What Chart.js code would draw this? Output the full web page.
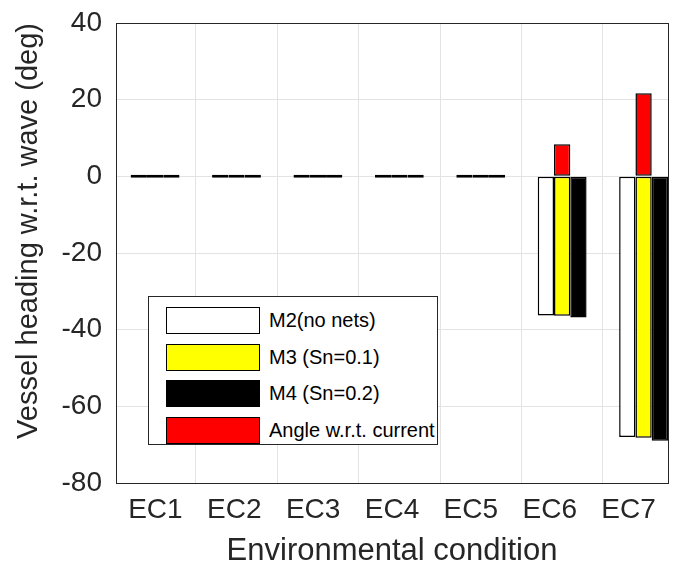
<!DOCTYPE html>
<html>
<head>
<meta charset="utf-8">
<script src="https://cdn.jsdelivr.net/npm/chart.js@4"></script>
<style>
	body { margin: 0; background: #fff; }
	#wrap { position: relative; width: 678px; height: 578px; }
	#legend {
		position: absolute; left: 148px; top: 296px; width: 290px; height: 149px;
		border: 1px solid #262626; background: #fff; box-sizing: border-box;
		font-family: "Liberation Sans", Arial, sans-serif; font-size: 20px; color: #000;
	}
	.row { position: absolute; left: 17px; height: 28px; display: flex; align-items: center; white-space: nowrap; }
	.sw { width: 94px; height: 27px; border: 1px solid #000; box-sizing: border-box; margin-right: 9px; }
</style>
</head>
<body>
<div id="wrap">
	<canvas id="myChart" width="678" height="578"></canvas>
	<div id="legend"></div>
</div>
<script>
const categories = ["EC1", "EC2", "EC3", "EC4", "EC5", "EC6", "EC7"];
const m2Values = [0, 0, 0, 0, 0, -36.3, -68.0];
const m3Values = [0, 0, 0, 0, 0, -36.4, -68.2];
const m4Values = [0, 0, 0, 0, 0, -36.8, -69.0];
const angleValues = [0, 0, 0, 0, 0, 8.4, 21.7];
const yTicks = [-80, -60, -40, -20, 0, 20, 40];
// bar positions 1..7 sit on an x axis running 0.52 .. 7.3, the labels on a separate axis
const xPositions = [1, 2, 3, 4, 5, 6, 7];
const xRange = [0.52, 7.3];

const seriesLabels = ["M2(no nets)", "M3 (Sn=0.1)", "M4 (Sn=0.2)", "Angle w.r.t. current"];
const seriesColors = ["#ffffff", "#ffff00", "#000000", "#ff0000"];

function toPoints(values) {
	return values.map(function (v, i) { return { x: xPositions[i], y: v }; });
}

window.onload = function () {
	var font = "'Liberation Sans', Arial, sans-serif";

	// MATLAB style box round the axes
	var boxPlugin = {
		id: "box",
		afterDatasetsDraw: function (chart) {
			var a = chart.chartArea;
			var ctx = chart.ctx;
			ctx.save();
			ctx.strokeStyle = "#262626";
			ctx.lineWidth = 1;
			ctx.strokeRect(a.left + 0.5, a.top + 0.5, a.right - a.left, a.bottom - a.top);
			ctx.restore();
		},
	};

	var ctx = document.getElementById("myChart").getContext("2d");
	myChart = new Chart(ctx, {
		type: "bar",
		data: {
			datasets: [
				{ label: seriesLabels[0], data: toPoints(m2Values), stack: "a", minBarLength: 3 },
				{ label: seriesLabels[1], data: toPoints(m3Values), stack: "b", minBarLength: 3 },
				{ label: seriesLabels[2], data: toPoints(m4Values), stack: "c", minBarLength: 3 },
				{ label: seriesLabels[3], data: toPoints(angleValues), stack: "b" },
			].map(function (d, i) {
				d.xAxisID = "x";
				d.backgroundColor = seriesColors[i];
				d.borderColor = "#000000";
				d.borderWidth = 1.5;
				d.borderSkipped = false;
				d.categoryPercentage = 0.6;
				d.barPercentage = 1.0;
				return d;
			}),
		},
		plugins: [boxPlugin],
		options: {
			responsive: false,
			animation: false,
			layout: { padding: { top: 23, right: 10, left: 0, bottom: 0 } },
			plugins: { legend: { display: false }, tooltip: { enabled: false } },
			scales: {
				x: {
					type: "linear",
					position: "bottom",
					min: xRange[0],
					max: xRange[1],
					offset: false,
					afterBuildTicks: function (scale) {
						scale.ticks = xPositions.map(function (v) { return { value: v }; });
					},
					grid: { color: "#e3e3e3", drawTicks: false },
					border: { display: false },
					ticks: { display: false },
					afterFit: function (scale) {
						scale.height = 0;
						scale.paddingLeft = scale.paddingRight = 0;
					},
				},
				xl: {
					type: "category",
					position: "bottom",
					labels: categories,
					offset: true,
					grid: { display: false, drawTicks: false },
					border: { display: false },
					ticks: { color: "#262626", font: { family: font, size: 28 }, padding: 10, maxRotation: 0 },
					title: { display: true, text: "Environmental condition", color: "#262626", font: { family: font, size: 31 }, padding: { top: 0, bottom: 8 } },
					afterFit: function (scale) {
						scale.height = 95;
						scale.paddingLeft = scale.paddingRight = 0;
					},
				},
				y: {
					stacked: true,
					min: -80,
					max: 40,
					afterBuildTicks: function (scale) {
						scale.ticks = yTicks.map(function (v) { return { value: v }; });
					},
					grid: { color: "#e3e3e3", drawTicks: false },
					border: { display: false },
					ticks: { color: "#262626", font: { family: font, size: 28 }, padding: 14 },
					title: { display: true, align: "end", text: "Vessel heading w.r.t. wave (deg)", color: "#262626", font: { family: font, size: 29 }, padding: { top: 12, bottom: 0 } },
					afterFit: function (scale) {
						scale.width = 116;
						scale.paddingTop = scale.paddingBottom = 0;
					},
				},
			},
		},
	});

	var legend = document.getElementById("legend");
	var tops = [9, 46, 82, 119];
	for (var i = 0; i < seriesLabels.length; i++) {
		var row = document.createElement("div");
		row.className = "row";
		row.style.top = tops[i] + "px";
		var sw = document.createElement("div");
		sw.className = "sw";
		sw.style.background = seriesColors[i];
		var txt = document.createElement("span");
		txt.innerText = seriesLabels[i];
		row.appendChild(sw);
		row.appendChild(txt);
		legend.appendChild(row);
	}
};
</script>
</body>
</html>
